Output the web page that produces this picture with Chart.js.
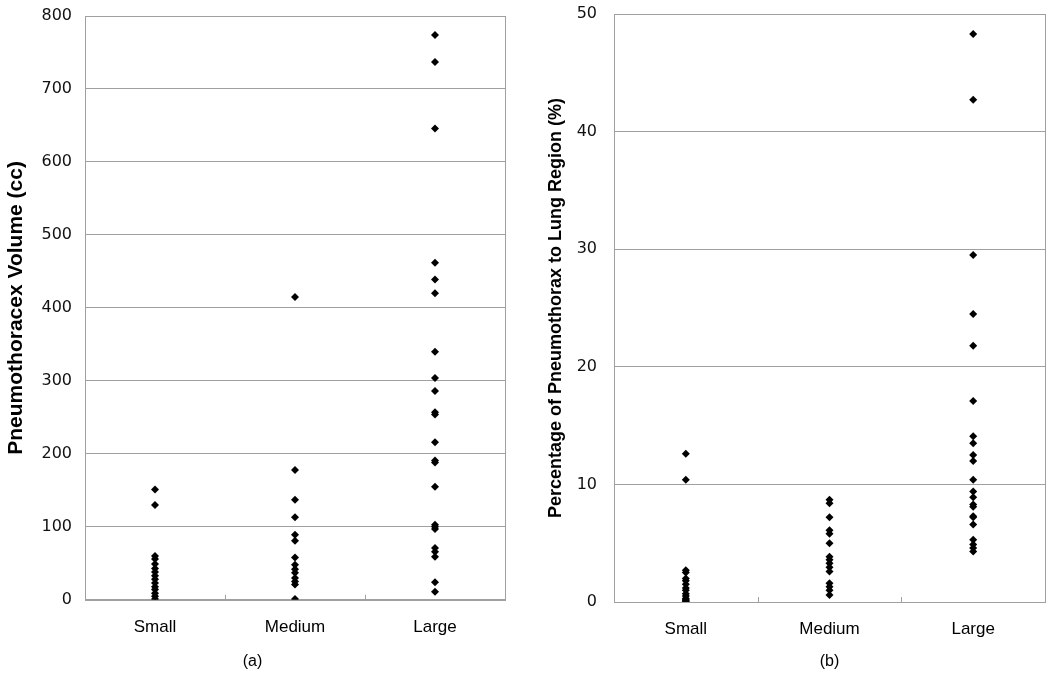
<!DOCTYPE html>
<html>
<head>
<meta charset="utf-8">
<script src="https://cdn.jsdelivr.net/npm/chart.js@4"></script>
<style>
  body { margin: 0; background: #fff; }
  #wrap { position: relative; width: 1050px; height: 675px; }
  #wrap > div { position: absolute; top: 0; height: 675px; }
</style>
</head>
<body>
<div id="wrap">
  <div style="left:0;width:525px"><canvas id="volumeChart"></canvas></div>
  <div style="left:525px;width:525px"><canvas id="percentChart"></canvas></div>
</div>
<script>
const categories = ['Small', 'Medium', 'Large'];

// (a) pneumothorax volume, cc
const volumeSmall = [151, 130, 60, 56, 49, 43, 38, 33, 28, 23, 18, 14, 9, 5, 1];
const volumeMedium = [415, 178, 137, 113, 89, 81, 58, 48, 42, 37, 30, 25, 21, 1];
const volumeLarge = [774, 737, 646, 462, 439, 420, 340, 304, 286, 257, 254, 216, 191, 188, 155, 103, 100, 97, 71, 66, 59, 24, 11];
const volumeTicks = [0, 100, 200, 300, 400, 500, 600, 700, 800];

// (b) percentage of pneumothorax to lung region
const percentSmall = [12.6, 10.4, 2.7, 2.5, 2.0, 1.8, 1.5, 1.2, 1.0, 0.7, 0.5, 0.3, 0.2, 0.1, 0.05];
const percentMedium = [8.7, 8.4, 7.2, 6.1, 5.8, 5.0, 3.85, 3.6, 3.3, 2.95, 2.6, 1.6, 1.3, 1.0, 0.6];
const percentLarge = [48.3, 42.7, 29.5, 24.5, 21.8, 17.1, 14.1, 13.5, 12.5, 12.0, 10.4, 9.4, 8.9, 8.3, 8.1, 7.3, 7.2, 6.6, 5.3, 4.9, 4.6, 4.3];
const percentTicks = [0, 10, 20, 30, 40, 50];

const lineGray = '#a0a0a0';

// box round the plot and small upward marks between categories
const framePlugin = {
  id: 'frame',
  beforeDatasetsDraw(chart) {
    const { ctx, chartArea: a, scales: { x } } = chart;
    ctx.save();
    ctx.strokeStyle = lineGray;
    ctx.lineWidth = 1;
    ctx.strokeRect(Math.round(a.left) + 0.5, Math.round(a.top) + 0.5,
      Math.round(a.right - a.left), Math.round(a.bottom - a.top));
    for (let i = 1; i < categories.length; i++) {
      const px = Math.round(x.getPixelForValue(i - 0.5)) + 0.5;
      ctx.beginPath();
      ctx.moveTo(px, a.bottom);
      ctx.lineTo(px, a.bottom - 5);
      ctx.stroke();
    }
    ctx.restore();
  }
};

function toPoints(groups) {
  const pts = [];
  groups.forEach((vals, i) => vals.forEach(v => pts.push({ x: categories[i], y: v })));
  return pts;
}

function makeChart(id, groups, ticks, opts) {
  new Chart(document.getElementById(id), {
    type: 'scatter',
    data: {
      labels: categories,
      datasets: [{
        data: toPoints(groups),
        pointStyle: 'rectRot',
        pointRadius: 4,
        pointHoverRadius: 4,
        backgroundColor: '#000',
        borderColor: '#000',
        borderWidth: 0
      }]
    },
    options: {
      responsive: true,
      maintainAspectRatio: false,
      animation: false,
      layout: { padding: opts.padding },
      plugins: {
        legend: { display: false },
        tooltip: { enabled: false },
        title: opts.bottomTitle || { display: false }
      },
      scales: {
        x: {
          type: 'category',
          labels: categories,
          offset: true,
          grid: { display: false, drawTicks: false },
          border: { color: lineGray },
          ticks: {
            padding: 17,
            color: '#000',
            font: { family: 'Liberation Sans', size: 17 }
          },
          title: opts.xTitle || { display: false },
          afterFit(s) { s.height = opts.xHeight; }
        },
        y: {
          min: 0,
          max: ticks[ticks.length - 1],
          afterBuildTicks(s) { s.ticks = ticks.map(v => ({ value: v })); },
          grid: { color: lineGray, drawTicks: false },
          border: { color: lineGray },
          ticks: {
            padding: opts.yPad,
            color: '#111',
            font: { family: 'DejaVu Sans', size: opts.yTickSize }
          },
          title: {
            display: true,
            text: opts.yTitle,
            color: '#000',
            padding: opts.yTitlePad,
            font: { family: 'Liberation Sans', weight: 'bold', size: opts.yTitleSize }
          },
          afterFit(s) {
            s.width = opts.yWidth;
            s.paddingTop = 0;
            s.paddingBottom = 0;
          }
        }
      }
    },
    plugins: [framePlugin]
  });
}

makeChart('volumeChart', [volumeSmall, volumeMedium, volumeLarge], volumeTicks, {
  padding: { top: 16, right: 20, bottom: 0, left: 0 },
  yWidth: 85,
  yPad: 13,
  yTickSize: 16,
  yTitle: 'Pneumothoracex Volume (cc)',
  yTitleSize: 21,
  yTitlePad: 4,
  xHeight: 44,
  bottomTitle: {
    display: true,
    position: 'bottom',
    text: '(a)',
    color: '#000',
    padding: { top: 8, bottom: 4 },
    font: { family: 'Liberation Sans', size: 16, weight: 'normal' }
  }
});

makeChart('percentChart', [percentSmall, percentMedium, percentLarge], percentTicks, {
  padding: { top: 14, right: 5, bottom: 0, left: 0 },
  yWidth: 89,
  yPad: 17,
  yTickSize: 16,
  yTitle: 'Percentage of Pneumothorax to Lung Region (%)',
  yTitleSize: 18,
  yTitlePad: 20,
  xHeight: 73,
  xTitle: {
    display: true,
    text: '(b)',
    color: '#000',
    padding: { top: 15, bottom: 4 },
    font: { family: 'Liberation Sans', size: 16 }
  }
});
</script>
</body>
</html>
